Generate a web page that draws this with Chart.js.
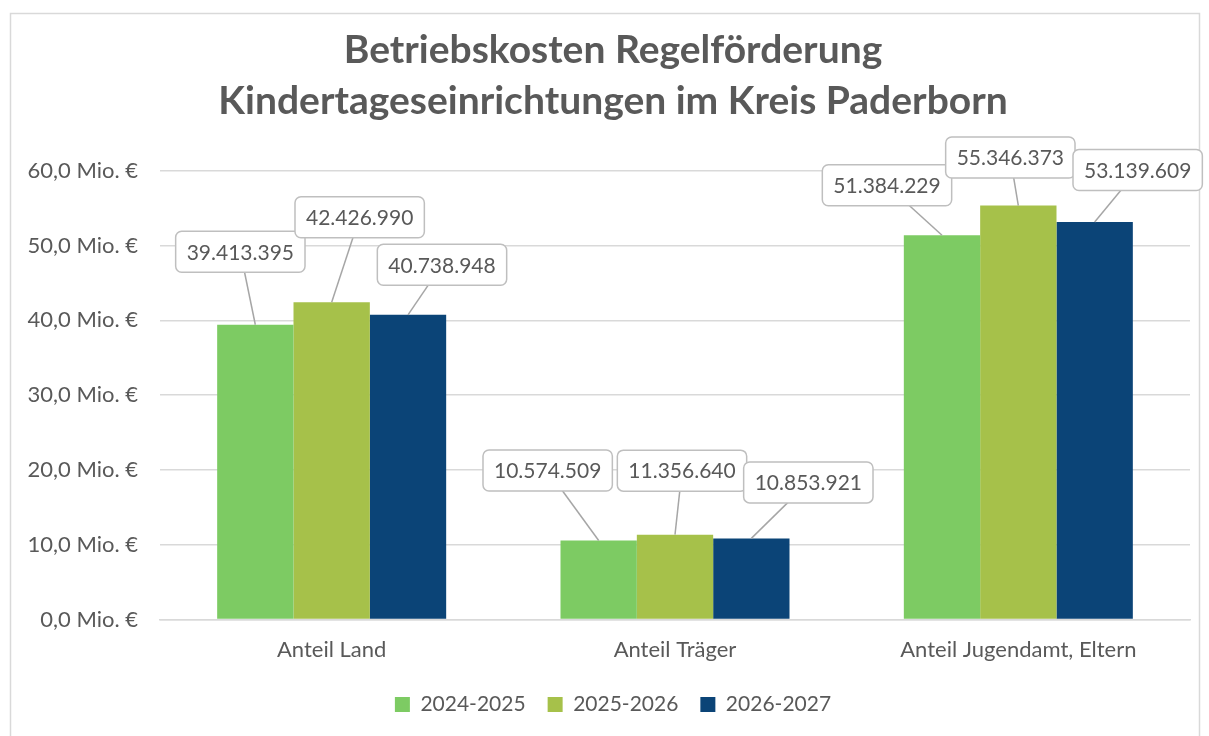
<!DOCTYPE html>
<html>
<head>
    <meta charset="utf-8">
    <title>Betriebskosten Regelförderung</title>
    <script src="https://cdn.jsdelivr.net/npm/chart.js"></script>
</head>
<body style="margin:0; background-color:white;">
<div style="position:relative; width:1209px; height:736px;">
    <canvas id="myChart"></canvas>
</div>
<script>
    const categories = ['Anteil Land', 'Anteil Träger', 'Anteil Jugendamt, Eltern'];
    const seriesNames = ['2024-2025', '2025-2026', '2026-2027'];
    const values2024 = [39413395, 10574509, 51384229];
    const values2025 = [42426990, 11356640, 55346373];
    const values2026 = [40738948, 10853921, 53139609];
    const yTicks = [0, 10000000, 20000000, 30000000, 40000000, 50000000, 60000000];

    const colors = ['#7dcb63', '#a6c14a', '#0b4477'];
    const textColor = '#595959';
    const fontFamily = 'Lato, "Open Sans", sans-serif';

    // where the callout boxes sit, relative to the top of their bar (px)
    const labelOffsets = [
        [[-15, -73], [-51, -70], [-55, -50]],
        [[28, -85], [7, -64], [-8, -48]],
        [[34, -50], [57, -56], [43, -52]]
    ];

    function formatDE(v) {
        return String(Math.round(v)).replace(/\B(?=(\d{3})+(?!\d))/g, '.');
    }

    const frame = {
        id: 'frame',
        beforeDraw(chart) {
            const c = chart.ctx;
            c.save();
            c.fillStyle = '#fff';
            c.fillRect(0, 0, chart.width, chart.height);
            c.strokeStyle = '#d9d9d9';
            c.lineWidth = 1.5;
            c.strokeRect(10.5, 13.5, 1189, 740);
            c.restore();
        }
    };

    const callouts = {
        id: 'callouts',
        afterDatasetsDraw(chart) {
            const c = chart.ctx;
            c.save();
            c.font = '21px ' + fontFamily;
            chart.data.datasets.forEach((ds, di) => {
                chart.getDatasetMeta(di).data.forEach((bar, i) => {
                    const off = labelOffsets[di][i];
                    const cx = bar.x + off[0], cy = bar.y + off[1];
                    const txt = formatDE(ds.data[i]);
                    const w = c.measureText(txt).width + 22, h = 41;
                    c.strokeStyle = '#a6a6a6';
                    c.lineWidth = 1.5;
                    c.beginPath();
                    c.moveTo(bar.x, bar.y);
                    c.lineTo(cx, cy);
                    c.stroke();
                    c.beginPath();
                    c.roundRect(cx - w / 2, cy - h / 2, w, h, 6);
                    c.fillStyle = '#fff';
                    c.fill();
                    c.strokeStyle = '#bfbfbf';
                    c.stroke();
                    c.fillStyle = textColor;
                    c.textAlign = 'center';
                    c.textBaseline = 'middle';
                    c.fillText(txt, cx, cy + 1);
                });
            });
            c.restore();
        }
    };

    const ctx = document.getElementById('myChart').getContext('2d');
    window.myChart = new Chart(ctx, {
        type: 'bar',
        data: {
            labels: categories,
            datasets: [values2024, values2025, values2026].map((d, i) => ({
                label: seriesNames[i],
                data: d,
                backgroundColor: colors[i],
                borderWidth: 0,
                categoryPercentage: 0.667,
                barPercentage: 1.0
            }))
        },
        options: {
            responsive: true,
            maintainAspectRatio: false,
            animation: false,
            layout: { padding: { top: 24, right: 0, bottom: 11, left: 17 } },
            plugins: {
                title: {
                    display: true,
                    text: ['Betriebskosten Regelförderung', 'Kindertageseinrichtungen im Kreis Paderborn'],
                    color: textColor,
                    font: { family: fontFamily, size: 39, weight: 'bold', lineHeight: 1.33 },
                    padding: { top: 0, bottom: 43 }
                },
                legend: {
                    position: 'bottom',
                    labels: {
                        color: textColor,
                        font: { family: fontFamily, size: 21 },
                        boxWidth: 15,
                        boxHeight: 15,
                        padding: 22
                    }
                },
                tooltip: { enabled: false }
            },
            scales: {
                x: {
                    grid: { display: false },
                    border: { color: '#d9d9d9', width: 1.5 },
                    ticks: { color: textColor, font: { family: fontFamily, size: 22 }, padding: 9 }
                },
                y: {
                    min: 0,
                    max: 60000000,
                    afterFit(scale) { scale.width = 143; },
                    afterBuildTicks(scale) { scale.ticks = yTicks.map(v => ({ value: v })); },
                    grid: { color: '#d9d9d9', lineWidth: 1.5, drawTicks: false },
                    border: { display: false },
                    ticks: {
                        color: textColor,
                        font: { family: fontFamily, size: 22 },
                        padding: 22,
                        callback: v => (v / 1e6).toFixed(1).replace('.', ',') + ' Mio. €'
                    }
                },
                // empty right margin so the title and legend centre like the original
                spacer: {
                    type: 'linear',
                    position: 'right',
                    afterFit(scale) { scale.width = 19; },
                    grid: { display: false, drawTicks: false },
                    border: { display: false },
                    ticks: { display: false }
                }
            }
        },
        plugins: [frame, callouts]
    });
</script>
</body>
</html>
